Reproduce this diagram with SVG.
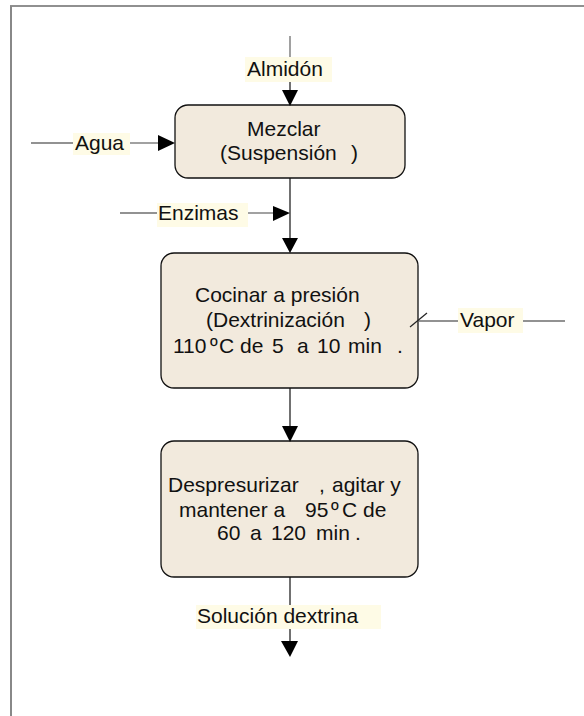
<svg xmlns="http://www.w3.org/2000/svg" width="584" height="716" viewBox="0 0 584 716">
<style>
text{font-family:"Liberation Sans",Arial,sans-serif;font-size:21px;fill:#111}
.box{fill:#f2eadd;stroke:#111;stroke-width:1.3}
.lbl{fill:#fefbe6}
.gl{stroke:#6e6e6e;stroke-width:1.3;fill:none}
.bl{stroke:#111;stroke-width:1.2;fill:none}
.ah{fill:#000}
</style>
<rect width="584" height="716" fill="#fff"/>
<g id="frame">
<line x1="10" y1="6" x2="584" y2="6" stroke="#222" stroke-width="1.2"/>
<line x1="11" y1="6" x2="11" y2="716" stroke="#888" stroke-width="2"/>
</g>
<g id="node-mezclar">
<rect class="box" x="175" y="105" width="230" height="73" rx="13"/>
<text x="247" y="136">Mezclar</text>
<text x="220" y="160">(Suspensión</text>
<text x="351" y="160">)</text>
</g>
<g id="node-cocinar">
<rect class="box" x="161" y="253" width="257" height="135" rx="13"/>
<text x="195" y="302">Cocinar a presión</text>
<text x="206" y="327">(Dextrinización</text>
<text x="364" y="327">)</text>
<text x="173" y="353">110</text>
<text x="210" y="353">º</text>
<text x="219" y="353">C de</text>
<text x="272" y="353">5</text>
<text x="297" y="353">a</text>
<text x="317" y="353">10</text>
<text x="348" y="353">min</text>
<text x="397" y="353">.</text>
</g>
<g id="node-despresurizar">
<rect class="box" x="161" y="441" width="257" height="136" rx="13"/>
<text x="168" y="492">Despresurizar</text>
<text x="319" y="492">,</text>
<text x="332" y="492">agitar y</text>
<text x="179" y="517">mantener a</text>
<text x="305" y="517">95</text>
<text x="331" y="517">º</text>
<text x="342" y="517">C de</text>
<text x="217" y="540">60</text>
<text x="250" y="540">a</text>
<text x="271" y="540">120</text>
<text x="316" y="540">min</text>
<text x="355" y="540">.</text>
</g>
<g id="connectors">
<line class="gl" x1="290" y1="36" x2="290" y2="57"/>
<line class="bl" x1="290" y1="82" x2="290" y2="92"/>
<polygon class="ah" points="282,90 298,90 290,106"/>
<line class="gl" x1="31" y1="143" x2="73" y2="143"/>
<line class="gl" x1="130" y1="143" x2="160" y2="143"/>
<polygon class="ah" points="158,135 158,151 175,143"/>
<line class="gl" x1="120" y1="213" x2="157" y2="213"/>
<line class="gl" x1="248" y1="213" x2="275" y2="213"/>
<polygon class="ah" points="273,206 273,221 290,213"/>
<line class="bl" x1="290" y1="178" x2="290" y2="240"/>
<polygon class="ah" points="282,238 298,238 290,253"/>
<line class="gl" x1="418" y1="321" x2="458" y2="321"/>
<line class="gl" x1="523" y1="321" x2="565" y2="321"/>
<line stroke="#222" stroke-width="1.2" x1="410" y1="327" x2="427" y2="313"/>
<line class="bl" x1="290" y1="388" x2="290" y2="428"/>
<polygon class="ah" points="282,426 298,426 290,442"/>
<line class="bl" x1="290" y1="577" x2="290" y2="605"/>
<line class="bl" x1="290" y1="629" x2="290" y2="643"/>
<polygon class="ah" points="281,641 298,641 290,657"/>
</g>
<g id="label-almidon">
<rect class="lbl" x="245" y="57" width="87" height="25"/>
<text x="247" y="76">Almidón</text>
</g>
<g id="label-agua">
<rect class="lbl" x="73" y="133" width="57" height="22"/>
<text x="75" y="150">Agua</text>
</g>
<g id="label-enzimas">
<rect class="lbl" x="157" y="203" width="91" height="24"/>
<text x="158" y="220">Enzimas</text>
</g>
<g id="label-vapor">
<rect class="lbl" x="458" y="308" width="65" height="25"/>
<text x="460" y="327">Vapor</text>
</g>
<g id="label-solucion">
<rect class="lbl" x="196" y="605" width="185" height="24"/>
<text x="197" y="623">Solución dextrina</text>
</g>
</svg>
